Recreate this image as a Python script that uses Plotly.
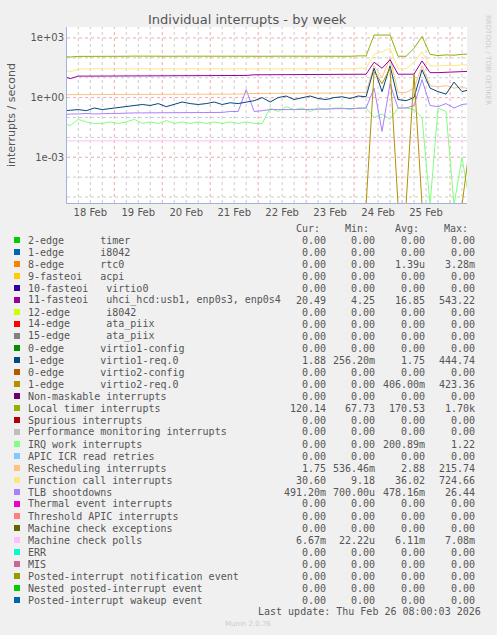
import pandas as pd
import plotly.graph_objects as go

# 4-hourly samples starting 17 Feb 18:00
start = "2026-02-17 18:00"
step_h = 4

local_timer = [125, 118, 110, 118, 120, 122, 120, 121, 119, 120, 122, 120, 121, 120, 119, 120, 121, 120,
               122, 120, 119, 121, 120, 120, 118, 120, 119, 120, 121, 120, 120, 119, 120, 121, 120, 120,
               119, 120, 125, 125, 1400, 1450, 1400, 120, 120, 300, 1200, 150, 130, 140, 135, 150, 160, 160]
function_call = [28, 27, 20, 27, 28, 28, 28, 28, 27, 28, 28, 28, 28, 27, 28, 28, 28, 28,
                 28, 28, 27, 28, 28, 28, 28, 28, 27, 28, 28, 28, 28, 28, 28, 28, 27, 28,
                 28, 28, 30, 30, 150, 200, 300, 28, 28, 60, 200, 40, 38, 42, 40, 45, 42, 42]
fasteoi11 = [12, 12, 9, 12, 12, 12, 12, 12, 12, 12, 13, 12, 12, 12, 12, 12, 12, 13,
             13, 13, 13, 13, 13, 13, 13, 14, 14, 14, 14, 14, 14, 14, 14, 14, 14, 14,
             14, 14, 15, 15, 60, 30, 80, 15, 15, 15, 70, 18, 18, 19, 19, 20, 21, 21]
resched = [1.4, 1.4, 1.4, 1.4, 1.4, 1.4, 1.4, 1.4, 1.4, 1.4, 1.4, 1.4, 1.4, 1.4, 1.4, 1.4, 1.4, 1.4,
           1.5, 1.5, 1.5, 1.5, 1.5, 1.5, 1.6, 1.6, 1.6, 1.7, 1.7, 1.7, 1.7, 1.7, 1.7, 1.7, 1.7, 1.7,
           1.7, 1.7, 1.8, 1.8, 40, 10, 100, 1.8, 1.8, 3, 40, 4, 3.5, 4, 3, 3.5, 2.5, 2.5]
virtio1_req = [0.25, 0.22, 0.23, 0.25, 0.22, 0.3, 0.25, 0.28, 0.3, 0.35, 0.4, 0.45, 0.4, 0.5, 0.35, 0.45, 0.6, 0.5,
               0.45, 0.5, 0.6, 0.45, 0.55, 0.5, 0.6, 0.7, 1.0, 0.6, 1.0, 1.2, 0.8, 1.0, 1.2, 0.9, 0.8, 1.0,
               1.1, 0.9, 1.2, 1.1, 30, 2, 40, 0.8, 0.7, 1.0, 25, 3, 2, 1.5, 6, 2, 2.5, 1.9]
tlb = [0.12, 0.14, 0.15, 0.15, 0.16, 0.15, 0.16, 0.16, 0.16, 0.17, 0.17, 0.17, 0.17, 0.17, 0.17, 0.18, 0.18, 0.18,
       0.18, 0.18, 0.18, 0.18, 0.2, 0.2, 2.5, 0.2, 0.22, 0.25, 0.25, 0.24, 0.25, 0.25, 0.26, 0.26, 0.26, 0.27,
       0.28, 0.28, 0.3, 0.3, 3, 0.02, 5, 0.3, 0.3, 0.4, 8, 0.4, 0.35, 0.5, 0.3, 0.45, 0.5, 0.5]
irq_work = [0.06, 0.05, 0.04, 0.08, 0.06, 0.05, 0.05, 0.06, 0.05, 0.06, 0.08, 0.05, 0.06, 0.05, 0.07, 0.05, 0.06, 0.05,
            0.06, 0.05, 0.06, 0.05, 0.06, 0.05, 0.06, 0.05, 0.05, 0.3, 0.2, 0.35, 0.25, 0.3, 0.2, 0.3, 0.25, 0.3,
            0.3, 0.25, 0.3, 0.3, 0.1, 0.15, 0.08, 0.3, 0.3, 0.25, 0.1, 0, 0.3, 0.2, 0, 0.001, 0, 0]
mc_polls = [0.0067] * 54
virtio2_req = [0] * 40 + [20, 5, 30, 0, 0, 15, 0, 0, 0, 0, 0, 0, 0.005, 0]

legend_rows = [
    ("#00CC00", "2-edge      timer", "0.00", "0.00", "0.00", "0.00"),
    ("#0066B3", "1-edge      i8042", "0.00", "0.00", "0.00", "0.00"),
    ("#FF8000", "8-edge      rtc0", "0.00", "0.00", "1.39u", "3.28m"),
    ("#FFCC00", "9-fasteoi   acpi", "0.00", "0.00", "0.00", "0.00"),
    ("#330099", "10-fasteoi   virtio0", "0.00", "0.00", "0.00", "0.00"),
    ("#990099", "11-fasteoi   uhci_hcd:usb1, enp0s3, enp0s4", "20.49", "4.25", "16.85", "543.22"),
    ("#CCFF00", "12-edge      i8042", "0.00", "0.00", "0.00", "0.00"),
    ("#FF0000", "14-edge      ata_piix", "0.00", "0.00", "0.00", "0.00"),
    ("#808080", "15-edge      ata_piix", "0.00", "0.00", "0.00", "0.00"),
    ("#008F00", "0-edge      virtio1-config", "0.00", "0.00", "0.00", "0.00"),
    ("#00487D", "1-edge      virtio1-req.0", "1.88", "256.20m", "1.75", "444.74"),
    ("#B35A00", "0-edge      virtio2-config", "0.00", "0.00", "0.00", "0.00"),
    ("#B38F00", "1-edge      virtio2-req.0", "0.00", "0.00", "406.00m", "423.36"),
    ("#6B006B", "Non-maskable interrupts", "0.00", "0.00", "0.00", "0.00"),
    ("#8FB300", "Local timer interrupts", "120.14", "67.73", "170.53", "1.70k"),
    ("#B30000", "Spurious interrupts", "0.00", "0.00", "0.00", "0.00"),
    ("#BEBEBE", "Performance monitoring interrupts", "0.00", "0.00", "0.00", "0.00"),
    ("#80FF80", "IRQ work interrupts", "0.00", "0.00", "200.89m", "1.22"),
    ("#80C9FF", "APIC ICR read retries", "0.00", "0.00", "0.00", "0.00"),
    ("#FFC080", "Rescheduling interrupts", "1.75", "536.46m", "2.88", "215.74"),
    ("#FFE680", "Function call interrupts", "30.60", "9.18", "36.02", "724.66"),
    ("#AA80FF", "TLB shootdowns", "491.20m", "700.00u", "478.16m", "26.44"),
    ("#EE00CC", "Thermal event interrupts", "0.00", "0.00", "0.00", "0.00"),
    ("#FF8080", "Threshold APIC interrupts", "0.00", "0.00", "0.00", "0.00"),
    ("#666600", "Machine check exceptions", "0.00", "0.00", "0.00", "0.00"),
    ("#FFBFFF", "Machine check polls", "6.67m", "22.22u", "6.11m", "7.08m"),
    ("#00FFCC", "ERR", "0.00", "0.00", "0.00", "0.00"),
    ("#CC6699", "MIS", "0.00", "0.00", "0.00", "0.00"),
    ("#999900", "Posted-interrupt notification event", "0.00", "0.00", "0.00", "0.00"),
    ("#00CC00", "Nested posted-interrupt event", "0.00", "0.00", "0.00", "0.00"),
    ("#0066B3", "Posted-interrupt wakeup event", "0.00", "0.00", "0.00", "0.00"),
]

series = [
    (mc_polls, "#FFBFFF"),
    (irq_work, "#80FF80"),
    (tlb, "#AA80FF"),
    (resched, "#FFC080"),
    (virtio1_req, "#00487D"),
    (fasteoi11, "#990099"),
    (function_call, "#FFE680"),
    (virtio2_req, "#B38F00"),
    (local_timer, "#8FB300"),
]

W, H = 497, 635
L, R, T, B = 67, 467, 27, 203
FLOOR = 4e-6  # zero values are drawn at the bottom edge like rrdtool

times = pd.date_range(start, periods=len(local_timer), freq=f"{step_h}h")
x0, x1 = pd.Timestamp("2026-02-18 00:20"), pd.Timestamp("2026-02-26 08:30")

fig = go.Figure()
for vals, col in series:
    fig.add_trace(go.Scatter(x=times, y=[max(v, FLOOR) for v in vals], mode="lines",
                             line=dict(color=col, width=1), showlegend=False, hoverinfo="skip"))

shapes = []
# vertical grid: grey every 6h, red at midnight
t = pd.Timestamp("2026-02-18 06:00")
while t < x1:
    red = t.hour == 0
    shapes.append(dict(type="line", xref="x", yref="paper", x0=t, x1=t, y0=0, y1=1, layer="below",
                       line=dict(color="rgba(230,110,110,0.6)" if red else "rgba(170,170,170,0.6)", width=1, dash="dot")))
    t += pd.Timedelta(hours=6)
# horizontal grid: each decade, red every three
for e in range(-5, 4):
    shapes.append(dict(type="line", xref="paper", yref="y", x0=0, x1=1, y0=10 ** e, y1=10 ** e, layer="below",
                       line=dict(color="rgba(230,110,110,0.6)" if e % 3 == 0 else "rgba(170,170,170,0.6)", width=1, dash="dot")))


def px(xp):
    return (xp - L) / (R - L)


def py(yp):
    return (B - yp) / (B - T)


def note(text, x, y, font, xanchor="center", **kw):
    return dict(text=text, x=px(x), y=py(y), xref="paper", yref="paper", xanchor=xanchor,
                yanchor="middle", showarrow=False, font=font, **kw)


mono = dict(family="DejaVu Sans Mono", size=10, color="#555555")
ann = [
    note("Individual interrupts - by week", 247, 19, dict(family="DejaVu Sans", size=13, color="#555555")),
    note("interrupts / second", 11, 115, dict(family="DejaVu Sans", size=11, color="#555555"), textangle=-90),
    note("RRDTOOL / TOBI OETIKER", 488, 60, dict(family="DejaVu Sans", size=7, color="#CCCCCC"), textangle=90),
    note("Munin 2.0.76", 248, 624, dict(family="DejaVu Sans", size=7, color="#CCCCCC")),
]
for txt, xr in [("Cur:", 322), ("Min:", 371), ("Avg:", 421), ("Max:", 470)]:
    ann.append(note(txt, xr, 228, mono, "right"))
for i, (col, name, cur, mn, avg, mx) in enumerate(legend_rows):
    yy = 240 + i * 12
    shapes.append(dict(type="rect", xref="paper", yref="paper", x0=px(14), x1=px(20), y0=py(yy + 3), y1=py(yy - 3),
                       fillcolor=col, line=dict(width=0)))
    ann.append(note(name.replace(" ", "&nbsp;"), 26, yy, mono, "left"))
    for v, xr in [(cur, 328), (mn, 377), (avg, 427), (mx, 477)]:
        ann.append(note(v, xr, yy, mono, "right"))
ann.append(note("Last update: Thu Feb 26 08:00:03 2026", 483, 611, mono, "right"))

fig.update_layout(
    width=W, height=H,
    margin=dict(l=L, r=W - R, t=T, b=H - B, autoexpand=False),
    paper_bgcolor="#F0F0F0", plot_bgcolor="#FFFFFF",
    shapes=shapes, annotations=ann,
    xaxis=dict(range=[x0, x1], showgrid=False, zeroline=False, showline=True, linecolor="#9DB3E0",
               automargin=False,
               tickvals=pd.date_range("2026-02-18 12:00", periods=8, freq="D"), ticktext=[
                   "18 Feb", "19 Feb", "20 Feb", "21 Feb", "22 Feb", "23 Feb", "24 Feb", "25 Feb"],
               tickfont=dict(family="DejaVu Sans", size=10, color="#555555"), ticks=""),
    yaxis=dict(type="log", range=[-5.3, 3.55], showgrid=False, zeroline=False, showline=True, linecolor="#9DB3E0",
               automargin=False,
               tickvals=[1e-3, 1, 1e3], ticktext=["1e-03", "1e+00", "1e+03"],
               tickfont=dict(family="DejaVu Sans", size=10, color="#555555"), ticks=""),
)
fig.write_html("out.html", config={"displayModeBar": False},
               post_script="document.body.style.margin='0';")
